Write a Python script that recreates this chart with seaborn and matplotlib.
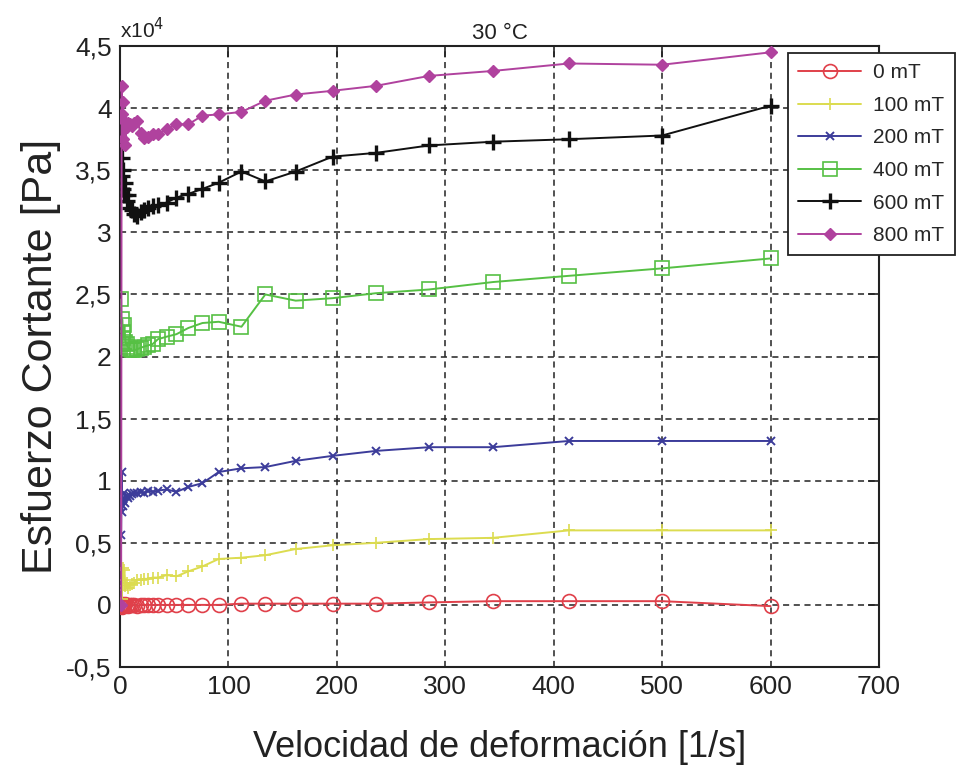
import numpy as np
import pandas as pd
import matplotlib
matplotlib.use("Agg")
import matplotlib.pyplot as plt
import seaborn as sns
from matplotlib.ticker import FuncFormatter

# --Daten (Esfuerzo cortante en unidades de 10^4 Pa)--
x_bajo = [1, 1.5, 2, 2.5, 3, 4, 5, 6, 7, 9, 11, 13, 16, 19, 22, 26, 30]
x_alto = [35, 43, 52, 63, 76, 91, 112, 134, 162, 196, 236, 285, 344, 414, 500, 600]
velocidad = x_bajo + x_alto

campos = ["0 mT", "100 mT", "200 mT", "400 mT", "600 mT", "800 mT"]

y_0mT = [0.0, -0.02, 0.01, 0.0, -0.01, 0.0, 0.01, 0.0, -0.01, 0.0, 0.0, 0.0, -0.01, 0.0, 0.0, 0.0, 0.0,
         0.0, 0.0, 0.0, 0.0, 0.0, 0.0, 0.01, 0.01, 0.01, 0.01, 0.01, 0.02, 0.03, 0.03, 0.03, -0.01]
y_100mT = [0.0, 0.05, 0.12, 0.3, 0.2, 0.28, 0.15, 0.18, 0.14, 0.16, 0.17, 0.18, 0.2, 0.2, 0.21, 0.21, 0.22,
           0.22, 0.24, 0.23, 0.27, 0.31, 0.37, 0.38, 0.4, 0.45, 0.48, 0.5, 0.53, 0.54, 0.6, 0.6, 0.6]
y_200mT = [0.56, 1.07, 0.75, 0.85, 0.8, 0.9, 0.82, 0.88, 0.86, 0.88, 0.89, 0.9, 0.9, 0.91, 0.9, 0.92, 0.91,
           0.92, 0.93, 0.91, 0.95, 0.98, 1.07, 1.1, 1.11, 1.16, 1.2, 1.24, 1.27, 1.27, 1.32, 1.32, 1.32]
y_400mT = [2.46, 2.1, 2.3, 2.2, 2.15, 2.25, 2.12, 2.1, 2.08, 2.06, 2.05, 2.05, 2.06, 2.07, 2.08, 2.09, 2.1,
           2.14, 2.16, 2.18, 2.23, 2.27, 2.28, 2.24, 2.5, 2.45, 2.47, 2.51, 2.54, 2.6, 2.65, 2.71, 2.79]
y_600mT = [3.7, 3.45, 3.6, 3.35, 3.5, 3.3, 3.4, 3.25, 3.3, 3.2, 3.18, 3.15, 3.13, 3.16, 3.18, 3.2, 3.21,
           3.22, 3.24, 3.28, 3.31, 3.35, 3.4, 3.49, 3.41, 3.49, 3.61, 3.64, 3.7, 3.73, 3.75, 3.78, 4.02]
y_800mT = [0.0, 4.18, 3.95, 4.05, 3.75, 3.9, 3.7, 3.85, 3.88, 3.87, 3.86, 3.88, 3.9, 3.8, 3.76, 3.77, 3.79,
           3.79, 3.83, 3.87, 3.87, 3.94, 3.95, 3.97, 4.06, 4.11, 4.14, 4.18, 4.26, 4.3, 4.36, 4.35, 4.45]

# --Stil pro Serie--
farben = ["#e0404a", "#dcdc50", "#3c3c9a", "#56c044", "#111111", "#b0429e"]
marker = ["o", "+", "x", "s", "+", "D"]
marker_groesse = [10, 8, 6, 10, 11, 6]
offen = [True, False, False, True, False, False]
kanten = [1.2, 1.2, 1.4, 1.2, 2.4, 1.0]

daten = pd.DataFrame({
    "Velocidad": velocidad * 6,
    "Esfuerzo": y_0mT + y_100mT + y_200mT + y_400mT + y_600mT + y_800mT,
    "Campo": [c for c in campos for _ in velocidad],
})

sns.set_style("white")
plt.rcParams["font.family"] = ["Liberation Sans", "DejaVu Sans"]

fig = plt.figure(figsize=(9.65, 7.8), dpi=100)
ax = fig.add_axes([0.1244, 0.1449, 0.7865, 0.796])

for i, campo in enumerate(campos):
    sub = daten[daten["Campo"] == campo]
    kw = dict(marker=marker[i], markersize=marker_groesse[i], markeredgewidth=kanten[i],
              markeredgecolor=farben[i])
    if offen[i]:
        kw["markerfacecolor"] = "none"
    sns.lineplot(data=sub, x="Velocidad", y="Esfuerzo", ax=ax, color=farben[i],
                 linewidth=1.4, estimator=None, sort=False, label=campo, zorder=3, **kw)

ax.set_xlim(0, 700)
ax.set_ylim(-0.5, 4.5)
ax.set_xticks(np.arange(0, 701, 100))
ax.set_yticks(np.arange(-0.5, 4.51, 0.5))
ax.yaxis.set_major_formatter(FuncFormatter(lambda v, p: f"{v:g}".replace(".", ",")))

ax.grid(True, color="#222222", linestyle=(0, (4, 3)), linewidth=1.1)
ax.tick_params(direction="in", top=True, right=True, length=8, width=1.2,
               labelsize=19, colors="#222222", pad=6)
for s in ax.spines.values():
    s.set_color("#222222")
    s.set_linewidth(1.5)

ax.set_xlabel("Velocidad de deformación [1/s]", fontsize=26, color="#222222", labelpad=22)
ax.set_ylabel("Esfuerzo Cortante [Pa]", fontsize=31, color="#222222", labelpad=4)
ax.set_title("30 °C", fontsize=16, color="#222222", pad=5)
ax.text(0.0, 1.006, r"x10$^4$", transform=ax.transAxes, fontsize=15, color="#222222",
        ha="left", va="bottom")

leg = ax.legend(loc="upper left", bbox_to_anchor=(0.88, 0.989), borderaxespad=0,
                fontsize=15, handlelength=3.0, labelspacing=0.65, frameon=True,
                fancybox=False, edgecolor="#222222", framealpha=1, borderpad=0.5,
                handletextpad=0.6)
leg.get_frame().set_linewidth(1.3)
leg.set_zorder(5)

fig.savefig("out.png", dpi=100)
